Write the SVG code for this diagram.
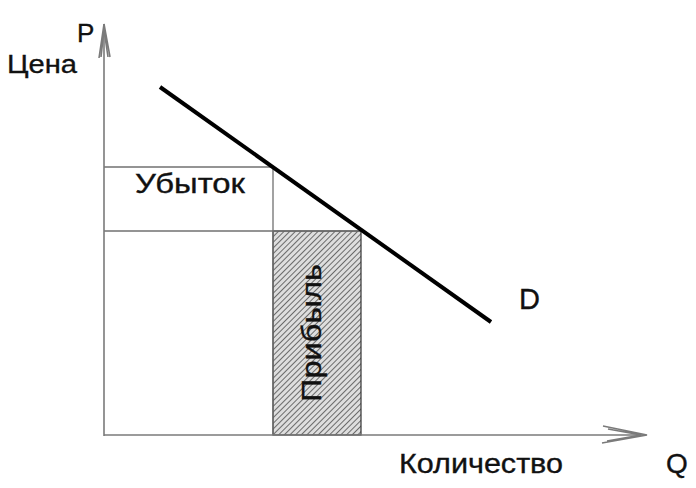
<svg xmlns="http://www.w3.org/2000/svg" width="696" height="488" viewBox="0 0 696 488">
<defs>
<style>
.axis{stroke:#7a7a7a;stroke-width:1.6;fill:none}
.grid{stroke:#707070;stroke-width:1.3;fill:none}
.demand{stroke:#000;stroke-width:4;fill:none;stroke-linecap:butt}
.lbl{font-family:"Liberation Sans",Arial,sans-serif;fill:#111;stroke:#111;stroke-width:0.35}
</style>
<pattern id="hatch" patternUnits="userSpaceOnUse" width="4" height="4" patternTransform="rotate(45)">
<rect width="4" height="4" fill="#dedede"/>
<line x1="0" y1="0" x2="0" y2="4" stroke="#5e5e5e" stroke-width="1.8"/>
</pattern>
</defs>
<rect width="696" height="488" fill="#fff"/>
<g id="profit">
<rect x="273" y="231" width="88" height="204" fill="url(#hatch)" stroke="#333" stroke-width="1.2"/>
<text class="lbl" font-size="28" textLength="138" lengthAdjust="spacingAndGlyphs" transform="translate(321,402) rotate(-90)">Прибыль</text>
</g>
<g id="grid">
<line class="grid" x1="104" y1="167" x2="273" y2="167"/>
<line class="grid" x1="104" y1="231" x2="361" y2="231"/>
<line class="grid" x1="273" y1="167" x2="273" y2="435"/>
</g>
<g id="loss">
<text class="lbl" x="135" y="193" font-size="28" textLength="110" lengthAdjust="spacingAndGlyphs">Убыток</text>
</g>
<g id="axes">
<line class="axis" x1="104" y1="436" x2="104" y2="24"/>
<path class="axis" d="M99,58 L104,24 L110,57 M101,57 L104,30 L108,57"/>
<line class="axis" x1="104" y1="435" x2="646" y2="435"/>
<path class="axis" d="M603,426 L647,435 L602,443 M608,429 L641,435 L607,441"/>
</g>
<g id="demand">
<line class="demand" x1="160" y1="87" x2="491" y2="322"/>
<text class="lbl" x="519" y="309" font-size="29">D</text>
</g>
<g id="labels">
<text class="lbl" x="77" y="42" font-size="26">P</text>
<text class="lbl" x="7" y="73" font-size="26" textLength="70" lengthAdjust="spacingAndGlyphs">Цена</text>
<text class="lbl" x="399" y="473" font-size="28" textLength="164" lengthAdjust="spacingAndGlyphs">Количество</text>
<text class="lbl" x="666" y="473" font-size="28">Q</text>
</g>
</svg>
